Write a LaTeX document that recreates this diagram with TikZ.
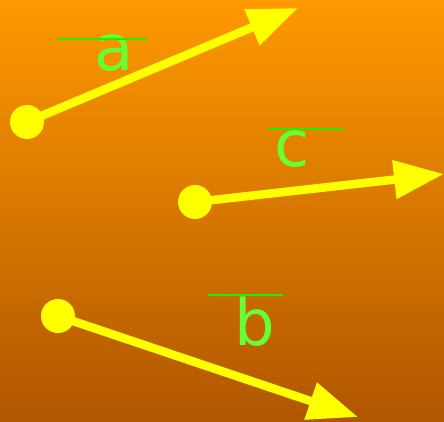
\documentclass[tikz,border=0pt]{standalone}
\usepackage{fontspec}
\setmainfont{DejaVu Sans}
\usetikzlibrary{arrows.meta}
\definecolor{vecyellow}{RGB}{255,255,0}
\definecolor{lblgreen}{RGB}{102,255,51}
\definecolor{bargreen}{RGB}{34,238,0}
\tikzset{
    dot/.style={circle,fill=vecyellow,inner sep=0pt,minimum size=34pt},
    vec/.style={vecyellow,line width=8.5pt,-{Triangle[length=50pt,width=37pt]}},
    lbl/.style={lblgreen,inner sep=0pt,anchor=base,font=\fontsize{64pt}{64pt}\selectfont},
    bar/.style={bargreen,line width=2.5pt}
}
\begin{document}
\begin{tikzpicture}[x=1pt,y=-1pt]
        \useasboundingbox (0,0) rectangle (444,421);
        \shade[top color={rgb,255:red,255;green,153;blue,0},middle color={rgb,255:red,234;green,136;blue,0},bottom color={rgb,255:red,176;green,86;blue,0}] (0,0) rectangle (444,421);
        \foreach \n/\sx/\sy/\tx/\ty in {a/27/122/298/8, c/195/202/444/174, b/58/316/358/417} {
            \node[dot] (\n0) at (\sx,\sy) {};
            \coordinate (\n1) at (\tx,\ty);
            \draw[vec] (\n0.center) -- (\n1);
        }
        \node[lbl] (la) at (114,70) {a};
        \node[lbl] (lc) at (292,166) {c};
        \node[lbl] (lb) at (255,345) {b};
        \draw[bar] (57,39) -- (147,39);
        \draw[bar] (268,129) -- (343,129);
        \draw[bar] (208,295) -- (283,295);
    \end{tikzpicture}
\end{document}
